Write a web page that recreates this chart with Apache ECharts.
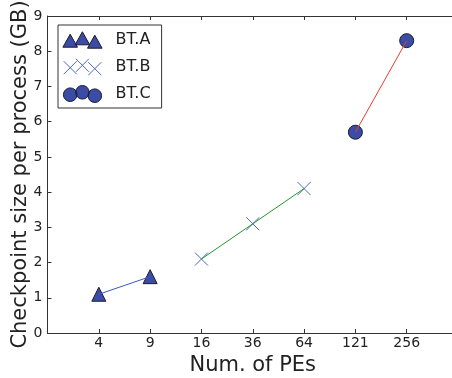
<!DOCTYPE html>
<html>
<head>
<meta charset="utf-8">
<script src="https://cdn.jsdelivr.net/npm/echarts@6/dist/echarts.min.js"></script>
<style>
  html, body { margin: 0; padding: 0; background: #fff; }
  #chart { width: 452px; height: 378px; }
</style>
</head>
<body>
<div id="chart"></div>
<script>
// Tick labels of the PE axis (one slot per PE count, with empty slots at both ends)
const peCounts = ['4', '9', '16', '36', '64', '121', '256'];

// Checkpoint size per process (GB) for each benchmark class
const btaPEs = ['4', '9'];
const btaSize = [1.1, 1.6];
const btbPEs = ['16', '36', '64'];
const btbSize = [2.1, 3.1, 4.1];
const btcPEs = ['121', '256'];
const btcSize = [5.7, 8.3];

const yTicks = [0, 1, 2, 3, 4, 5, 6, 7, 8, 9];

const FONT = 'DejaVu Sans';
const INK = '#222';
const MARKER_FILL = '#3a4ca6';
const MARKER_EDGE = '#1c1c2c';
const CROSS_BLUE = '#4c66c8';

function pts(pes, sizes) {
  return pes.map((p, i) => [peCounts.indexOf(p) + 1, sizes[i]]);
}

// Legend handles: three markers per entry, staggered like scatter handles.
// Outer M commands fix the handle box at 48x18 so the shapes keep their size.
const handleCentres = [[7.7, 10.2], [19.9, 7.8], [32.3, 11.2]];
function triHandle() {
  let d = 'M0 0M48 18';
  handleCentres.forEach(([cx, cy]) => {
    d += `M${cx} ${cy - 6.5}L${cx + 7.3} ${cy + 6.5}L${cx - 7.3} ${cy + 6.5}Z`;
  });
  return 'path://' + d;
}
function crossHandle() {
  let d = 'M0 0M48 18';
  handleCentres.forEach(([cx, cy]) => {
    d += `M${cx - 6.5} ${cy - 6.5}L${cx + 6.5} ${cy + 6.5}M${cx + 6.5} ${cy - 6.5}L${cx - 6.5} ${cy + 6.5}`;
  });
  return 'path://' + d;
}
function circleHandle() {
  let d = 'M0 0M48 18';
  const r = 6.8;
  handleCentres.forEach(([cx, cy]) => {
    d += `M${cx - r} ${cy}A${r} ${r} 0 1 0 ${cx + r} ${cy}A${r} ${r} 0 1 0 ${cx - r} ${cy}Z`;
  });
  return 'path://' + d;
}

const chart = echarts.init(document.getElementById('chart'), null, { renderer: 'canvas' });

const xTickLabel = v => (v >= 1 && v <= peCounts.length) ? peCounts[v - 1] : '';

chart.setOption({
  animation: false,
  backgroundColor: '#fff',
  textStyle: { fontFamily: FONT, color: INK },
  grid: { left: 47.5, top: 16, width: 410.5, height: 317, containLabel: false, outerBoundsMode: 'none' },
  legend: {
    orient: 'vertical',
    left: 58,
    top: 25,
    padding: [5, 11, 5, 4],
    itemWidth: 48,
    itemHeight: 18,
    itemGap: 8,
    backgroundColor: '#fff',
    borderColor: '#333',
    borderWidth: 1,
    borderRadius: 0,
    selectedMode: false,
    textStyle: { fontFamily: FONT, fontSize: 16, color: INK },
    data: [
      { name: 'BT.A', icon: triHandle(),
        itemStyle: { color: MARKER_FILL, borderColor: MARKER_EDGE, borderWidth: 1 } },
      { name: 'BT.B', icon: crossHandle(),
        itemStyle: { color: 'rgba(0,0,0,0)', borderColor: CROSS_BLUE, borderWidth: 1 } },
      { name: 'BT.C', icon: circleHandle(),
        itemStyle: { color: MARKER_FILL, borderColor: MARKER_EDGE, borderWidth: 1 } }
    ]
  },
  xAxis: [
    {
      type: 'value', min: 0, max: 8, interval: 1, position: 'bottom',
      name: 'Num. of PEs', nameLocation: 'middle', nameGap: 22, nameMoveOverlap: false,
      nameTextStyle: { fontFamily: FONT, fontSize: 21, color: INK, verticalAlign: 'top' },
      axisLine: { show: true, lineStyle: { color: '#333', width: 1 } },
      axisTick: { show: true, inside: true, length: 4, lineStyle: { color: '#333' } },
      axisLabel: { fontFamily: FONT, fontSize: 14, color: INK, margin: 3, formatter: xTickLabel },
      splitLine: { show: false }
    },
    {
      type: 'value', min: 0, max: 8, interval: 1, position: 'top',
      axisLine: { show: true, lineStyle: { color: '#333', width: 1 } },
      axisTick: { show: true, inside: true, length: 4, lineStyle: { color: '#333' } },
      axisLabel: { show: false },
      splitLine: { show: false }
    }
  ],
  yAxis: {
    type: 'value', min: yTicks[0], max: yTicks[yTicks.length - 1], interval: 1,
    name: 'Checkpoint size per process (GB)', nameLocation: 'middle', nameGap: 16, nameMoveOverlap: false,
    nameTextStyle: { fontFamily: FONT, fontSize: 21, color: INK },
    axisLine: { show: true, lineStyle: { color: '#333', width: 1 } },
    axisTick: { show: true, inside: true, length: 4, lineStyle: { color: '#333' } },
    axisLabel: { fontFamily: FONT, fontSize: 14, color: INK, margin: 5 },
    splitLine: { show: false }
  },
  series: [
    // markers
    { name: 'BT.A', type: 'scatter', z: 2, data: pts(btaPEs, btaSize),
      symbol: 'triangle', symbolSize: 14,
      itemStyle: { color: MARKER_FILL, borderColor: MARKER_EDGE, borderWidth: 1, opacity: 1 } },
    { name: 'BT.B', type: 'scatter', z: 2, data: pts(btbPEs, btbSize),
      symbol: 'path://M0 0L10 10M10 0L0 10', symbolSize: 13,
      itemStyle: { color: 'rgba(0,0,0,0)', borderColor: CROSS_BLUE, borderWidth: 1, opacity: 1 } },
    { name: 'BT.C', type: 'scatter', z: 2, data: pts(btcPEs, btcSize),
      symbol: 'circle', symbolSize: 14,
      itemStyle: { color: MARKER_FILL, borderColor: MARKER_EDGE, borderWidth: 1, opacity: 1 } },
    // connecting lines, drawn over the markers
    { name: 'BT.A line', type: 'line', z: 3, data: pts(btaPEs, btaSize), showSymbol: false,
      lineStyle: { color: '#3f55c6', width: 1 } },
    { name: 'BT.B line', type: 'line', z: 3, data: pts(btbPEs, btbSize), showSymbol: false,
      lineStyle: { color: '#229a2a', width: 1 } },
    { name: 'BT.C line', type: 'line', z: 3, data: pts(btcPEs, btcSize), showSymbol: false,
      lineStyle: { color: '#ee3a30', width: 1 } }
  ]
});
</script>
</body>
</html>
